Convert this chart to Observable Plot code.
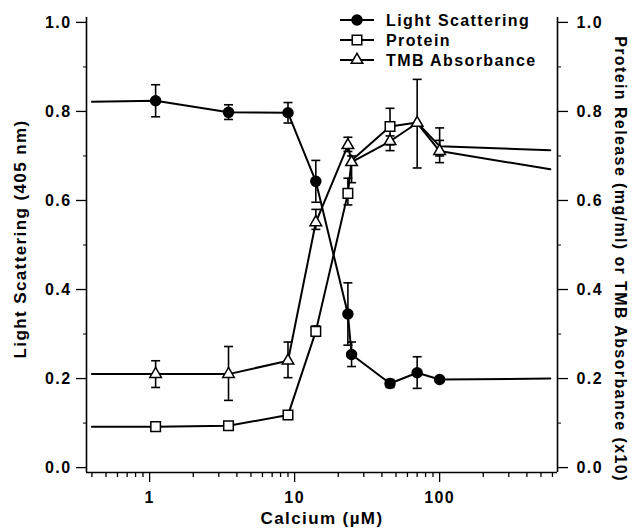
<!DOCTYPE html>
<html>
<head>
<meta charset="utf-8">
<script src="https://cdn.jsdelivr.net/npm/d3@7"></script>
<script src="https://cdn.jsdelivr.net/npm/@observablehq/plot@0.6"></script>
<style>
  html, body { margin: 0; padding: 0; background: #fff; }
  svg text { letter-spacing: 1.4px; }
</style>
</head>
<body>
<div id="chart"></div>
<script>
// ---- data ----
const calcium = [1.1, 3.5, 9, 14, 23.3, 24.7, 45.5, 70, 100];
const xExtend = [0.4, 580];           // fitted-line extensions (no markers)

const light   = [0.824, 0.798, 0.797, 0.643, 0.345, 0.254, 0.189, 0.213, 0.198];
const lightLo = [0.788, 0.782, 0.774, 0.596, 0.275, 0.227, 0.180, 0.178, null];
const lightHi = [0.860, 0.815, 0.820, 0.690, 0.415, 0.282, 0.198, 0.249, null];
const lightExt = [0.822, 0.200];

const protein   = [0.092, 0.094, 0.118, 0.306, 0.616, 0.690, 0.766, 0.775, 0.722];
const proteinLo = [null, null, null, 0.295, 0.590, null, 0.725, null, 0.700];
const proteinHi = [null, null, null, 0.318, 0.650, null, 0.807, null, 0.763];
const proteinExt = [0.092, 0.713];

const tmb   = [0.210, 0.210, 0.240, 0.551, 0.724, 0.686, 0.733, 0.774, 0.711];
const tmbLo = [0.180, 0.151, 0.202, 0.535, 0.710, 0.640, 0.712, 0.673, 0.685];
const tmbHi = [0.240, 0.272, 0.282, 0.580, 0.742, 0.700, 0.745, 0.872, 0.735];
const tmbExt = [0.210, 0.670];

const seriesNames = ["Light Scattering", "Protein", "TMB Absorbance"];
const yTicks = [0, 0.2, 0.4, 0.6, 0.8, 1.0];
const yMinor = [0.1, 0.3, 0.5, 0.7, 0.9];
const xTicks = [1, 10, 100];
const xMinor = [0.4,0.5,0.6,0.7,0.8,0.9,2,3,4,5,6,7,8,9,20,30,40,50,60,70,80,90,200,300,400,500,600];
const xDomain = [0.367, 650];
const yDomain = [-0.011, 1.011];
const xLabel = "Calcium (\u00b5M)";
const yLabelLeft = "Light Scattering (405 nm)";
const yLabelRight = "Protein Release (mg/ml) or TMB Absorbance (x10)";

// ---- build tables ----
function linePts(vals, ext) {
  return [{x: xExtend[0], y: ext[0]}, ...calcium.map((c, i) => ({x: c, y: vals[i]})), {x: xExtend[1], y: ext[1]}];
}
function errPts(lo, hi) {
  return calcium.map((c, i) => ({x: c, lo: lo[i], hi: hi[i]})).filter(d => d.lo != null);
}
const pts = (vals) => calcium.map((c, i) => ({x: c, y: vals[i]}));
// protein squares that sit under a TMB triangle are hidden in the original
const proteinVisible = pts(protein).filter((d, i) => Math.abs(protein[i] - tmb[i]) > 0.02);

const capSymbol = {
  draw(ctx, size) {
    const w = Math.sqrt(size / Math.PI);
    ctx.moveTo(-w, 0); ctx.lineTo(w, 0);
  }
};

const errs = [...errPts(lightLo, lightHi), ...errPts(proteinLo, proteinHi), ...errPts(tmbLo, tmbHi)];
const caps = errs.flatMap(d => [{x: d.x, y: d.lo}, {x: d.x, y: d.hi}]);

const font = '"Liberation Sans", Arial, Helvetica, sans-serif';
const rCircle = 5, rSquare = 5.4, rTriangle = 4.3;

const chart = Plot.plot({
  width: 636, height: 529,
  marginLeft: 86, marginRight: 79, marginTop: 17, marginBottom: 57,
  x: {type: "log", domain: xDomain},
  y: {domain: yDomain},
  style: {fontFamily: font, fontWeight: "bold", fontSize: "16px", color: "#000", background: "#fff"},
  marks: [
    // axis lines
    Plot.ruleX([xDomain[0], xDomain[1]], {stroke: "#000", strokeWidth: 1.6}),
    Plot.ruleY([yDomain[0]], {stroke: "#000", strokeWidth: 1.6}),
    // axes
    Plot.axisY({anchor: "left", ticks: yTicks, tickSize: 10, tickPadding: 5, tickFormat: d3.format(".1f"), label: null, strokeWidth: 1.3}),
    Plot.axisY({anchor: "right", ticks: yTicks, tickSize: 10, tickPadding: 9, tickFormat: d3.format(".1f"), label: null, strokeWidth: 1.3}),
    Plot.axisY({anchor: "left", ticks: yMinor, tickSize: 3, tickFormat: () => "", label: null}),
    Plot.axisY({anchor: "right", ticks: yMinor, tickSize: 3, tickFormat: () => "", label: null}),
    Plot.axisX({anchor: "bottom", ticks: xTicks, tickSize: 10, tickPadding: 9, tickFormat: d3.format("d"), label: null, strokeWidth: 1.3}),
    Plot.axisX({anchor: "bottom", ticks: xMinor, tickSize: 5, tickFormat: () => "", label: null, strokeWidth: 1.3}),
    // axis labels
    Plot.text([xLabel], {frameAnchor: "bottom", dy: 46, textAnchor: "middle", lineAnchor: "middle", fontSize: 17}),
    Plot.text([yLabelLeft], {frameAnchor: "left", dx: -66, dy: -6, rotate: -90, textAnchor: "middle", lineAnchor: "middle", fontSize: 17}),
    Plot.text([yLabelRight], {frameAnchor: "right", dx: 63, dy: 14, rotate: 90, textAnchor: "middle", lineAnchor: "middle", fontSize: 16}),
    // lines
    Plot.line(linePts(tmb, tmbExt), {x: "x", y: "y", stroke: "#000", strokeWidth: 2}),
    Plot.line(linePts(protein, proteinExt), {x: "x", y: "y", stroke: "#000", strokeWidth: 2}),
    Plot.line(linePts(light, lightExt), {x: "x", y: "y", stroke: "#000", strokeWidth: 2}),
    // error bars
    Plot.ruleX(errs, {x: "x", y1: "lo", y2: "hi", stroke: "#000", strokeWidth: 1.6}),
    Plot.dot(caps, {x: "x", y: "y", symbol: capSymbol, r: 4.5, stroke: "#000", strokeWidth: 1.6, fill: "none"}),
    // markers
    Plot.dot(proteinVisible, {x: "x", y: "y", symbol: "square", r: rSquare, fill: "#fff", stroke: "#000", strokeWidth: 1.5}),
    Plot.dot(pts(tmb), {x: "x", y: "y", symbol: "triangle", r: rTriangle, fill: "#fff", stroke: "#000", strokeWidth: 1.5}),
    Plot.dot(pts(light), {x: "x", y: "y", symbol: "circle", r: rCircle, fill: "#000", stroke: "#000"})
  ]
});

document.getElementById("chart").appendChild(chart);

// ---- legend (inside the svg, top right) ----
const svg = d3.select(chart.tagName.toLowerCase() === "svg" ? chart : chart.querySelector("svg"));
const legendSymbols = [
  {sym: d3.symbolCircle, size: Math.PI * rCircle * rCircle, fill: "#000"},
  {sym: d3.symbolSquare, size: Math.PI * rSquare * rSquare, fill: "#fff"},
  {sym: d3.symbolTriangle, size: Math.PI * rTriangle * rTriangle, fill: "#fff"}
];
const lg = svg.append("g").attr("font-family", font).attr("font-weight", "bold").attr("font-size", 16)
  .attr("text-anchor", "start").style("letter-spacing", "1px");
seriesNames.forEach((name, i) => {
  const y = 20 + i * 20;
  lg.append("line").attr("x1", 340).attr("x2", 374).attr("y1", y).attr("y2", y).attr("stroke", "#000").attr("stroke-width", 2);
  lg.append("path").attr("d", d3.symbol(legendSymbols[i].sym, legendSymbols[i].size)())
    .attr("transform", `translate(357,${y})`).attr("fill", legendSymbols[i].fill).attr("stroke", "#000").attr("stroke-width", 1.5);
  lg.append("text").attr("x", 386).attr("y", y).attr("dy", "0.36em").attr("text-anchor", "start").attr("fill", "#000").text(name);
});
</script>
</body>
</html>
